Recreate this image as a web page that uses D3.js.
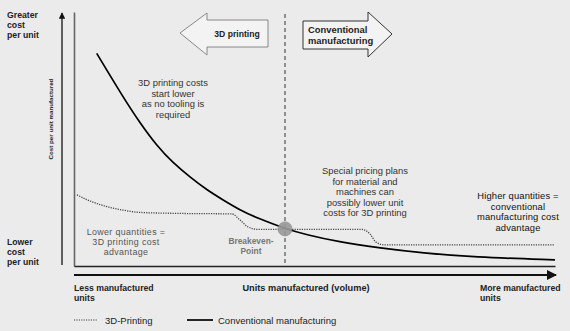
<!DOCTYPE html>
<html><head><meta charset="utf-8">
<script src="https://cdn.jsdelivr.net/npm/d3@7"></script>
<style>
html,body{margin:0;padding:0;background:#ebebeb;}
svg{display:block;}
text{font-family:"Liberation Sans",Arial,sans-serif;}
</style></head>
<body><div id="chart"></div>
<script>
// Units manufactured (0–100 relative volume) and cost per unit (0–100 relative)
const conventionalX = [4.72, 10.19, 13.72, 17.26, 20.58, 24.12, 27.65, 30.98, 34.51, 38.05, 43.45, 48.44, 55.3, 63.62, 72.56, 82.95, 100];
const conventionalY = [83.7, 66.5, 56.3, 47.2, 40.6, 35.0, 29.9, 26.0, 22.0, 18.9, 15.0, 12.2, 9.4, 7.1, 5.1, 3.5, 2.4];
const printingX = [0.62, 3.33, 6.44, 10.19, 13.72, 22.04, 32.85, 34.51, 36.17, 38.25, 43.87, 59.88, 61.54, 62.79, 64.66, 100];
const printingY = [28.0, 25.6, 23.6, 22.0, 21.1, 20.7, 20.5, 18.1, 15.4, 14.4, 14.4, 14.4, 12.6, 9.4, 8.3, 8.3];
const breakeven = {x: 43.87, y: 14.6};
const seriesNames = ["3D-Printing", "Conventional manufacturing"];

const W = 570, H = 331;
const svg = d3.select("#chart").append("svg").attr("width", W).attr("height", H);
svg.append("rect").attr("width", W).attr("height", H).attr("fill", "#ebebeb");

const x = d3.scaleLinear().domain([0, 100]).range([74, 555]);
const y = d3.scaleLinear().domain([0, 100]).range([266, 12]);

const defs = svg.append("defs");
defs.append("marker").attr("id", "arr").attr("viewBox", "0 0 10 10").attr("refX", 9).attr("refY", 5)
  .attr("markerWidth", 5).attr("markerHeight", 5).attr("orient", "auto")
  .append("path").attr("d", "M0,0L10,5L0,10Z").attr("fill", "#111");

// frame (axes without ticks)
svg.append("g").attr("transform", "translate(74,0)")
  .call(d3.axisLeft(y).tickValues([]).tickSizeOuter(0))
  .call(g => g.select(".domain").attr("stroke", "#666").attr("stroke-width", 1.6));
svg.append("g").attr("transform", "translate(0,266)")
  .call(d3.axisBottom(x).tickValues([]).tickSizeOuter(0))
  .call(g => g.select(".domain").attr("stroke", "#222").attr("stroke-width", 1.4));

// axis arrows
svg.append("line").attr("x1", 62).attr("x2", 62).attr("y1", 265).attr("y2", 13)
  .attr("stroke", "#111").attr("stroke-width", 1.3).attr("marker-end", "url(#arr)");
svg.append("line").attr("x1", 74).attr("x2", 556).attr("y1", 275).attr("y2", 275)
  .attr("stroke", "#111").attr("stroke-width", 2).attr("marker-end", "url(#arr)");

// breakeven dashed line
svg.append("line").attr("x1", x(breakeven.x)).attr("x2", x(breakeven.x)).attr("y1", 14).attr("y2", 266)
  .attr("stroke", "#333").attr("stroke-width", 1).attr("stroke-dasharray", "4,3");

// block arrows
const leftArrow = [[180,33],[207,13],[207,20],[268,20],[268,47],[207,47],[207,55]];
const rightArrow = [[303,21],[368,21],[368,12],[392,34],[368,57],[368,49],[303,49]];
svg.append("path").attr("d", d3.line()(leftArrow) + "Z").attr("fill", "#f3f3f3").attr("stroke", "#888").attr("stroke-width", 1);
svg.append("path").attr("d", d3.line()(rightArrow) + "Z").attr("fill", "#f3f3f3").attr("stroke", "#333").attr("stroke-width", 1);
svg.append("text").attr("x", 237).attr("y", 37).attr("text-anchor", "middle").attr("font-size", 8.6).attr("font-weight", "bold").attr("fill", "#222").text("3D printing");
svg.append("text").attr("x", 308).attr("y", 33).attr("font-size", 9.4).attr("font-weight", "bold").attr("fill", "#222").text("Conventional");
svg.append("text").attr("x", 308).attr("y", 44).attr("font-size", 9.4).attr("font-weight", "bold").attr("fill", "#222").text("manufacturing");

// curves
const conv = conventionalX.map((v, i) => [v, conventionalY[i]]);
const print = printingX.map((v, i) => [v, printingY[i]]);
const lineP = d3.line().x(d => x(d[0])).y(d => y(d[1])).curve(d3.curveMonotoneX);
const lineC = d3.line().x(d => x(d[0])).y(d => y(d[1])).curve(d3.curveBasis);
svg.append("path").attr("d", lineP(print)).attr("fill", "none").attr("stroke", "#444").attr("stroke-width", 1.3).attr("stroke-dasharray", "1.2,1.2");
svg.append("path").attr("d", lineC(conv)).attr("fill", "none").attr("stroke", "#000").attr("stroke-width", 1.7);

svg.append("circle").attr("cx", x(breakeven.x)).attr("cy", y(breakeven.y)).attr("r", 7)
  .attr("fill", "#999").attr("stroke", "#888").attr("stroke-width", 0.8).attr("opacity", 0.9);

// texts
function lines(arr, x0, y0, dy, opts) {
  arr.forEach((s, i) => svg.append("text").attr("x", x0).attr("y", y0 + i * dy)
    .attr("font-size", opts.size || 9.4).attr("fill", opts.fill || "#333")
    .attr("letter-spacing", opts.ls || 0)
    .attr("text-anchor", opts.anchor || "middle").attr("font-weight", opts.weight || "normal").text(s));
}
lines(["Greater", "cost", "per unit"], 7, 18, 10, {anchor: "start", weight: "bold", fill: "#222", size: 8.7});
lines(["Lower", "cost", "per unit"], 7, 245, 10, {anchor: "start", weight: "bold", fill: "#222", size: 8.7});
svg.append("text").attr("transform", "translate(53,119) rotate(-90)").attr("text-anchor", "middle")
  .attr("font-size", 6.2).attr("font-weight", "bold").attr("fill", "#222").text("Cost per unit manufactured");
lines(["3D printing costs", "start lower", "as no tooling is", "required"], 173, 86, 10.6, {});
lines(["Special pricing plans", "for material and", "machines can", "possibly lower unit", "costs for 3D printing"], 365, 174, 10.6, {});
lines(["Higher quantities =", "conventional", "manufacturing cost", "advantage"], 518, 199, 10.6, {fill: "#111", ls: 0.15});
lines(["Lower quantities =", "3D printing cost", "advantage"], 126, 235, 10, {fill: "#555", size: 8.9, ls: 0.35});
lines(["Breakeven-", "Point"], 251, 244, 10.3, {fill: "#777", weight: "bold", size: 8.4});
lines(["Less manufactured", "units"], 74, 291, 10, {anchor: "start", weight: "bold", fill: "#222", size: 8.7});
lines(["Units manufactured (volume)"], 306, 291, 10, {weight: "bold", fill: "#222", size: 9.2});
lines(["More manufactured", "units"], 480, 291, 10, {anchor: "start", weight: "bold", fill: "#222", size: 8.7});

// legend
svg.append("line").attr("x1", 74).attr("x2", 98).attr("y1", 320).attr("y2", 320).attr("stroke", "#444").attr("stroke-width", 1.2).attr("stroke-dasharray", "1.2,1.2");
svg.append("text").attr("x", 105).attr("y", 323.5).attr("font-size", 9.5).attr("fill", "#222").text(seriesNames[0]);
svg.append("line").attr("x1", 187).attr("x2", 213).attr("y1", 320).attr("y2", 320).attr("stroke", "#000").attr("stroke-width", 1.7);
svg.append("text").attr("x", 218).attr("y", 323.5).attr("font-size", 9.5).attr("fill", "#222").text(seriesNames[1]);
</script></body></html>
